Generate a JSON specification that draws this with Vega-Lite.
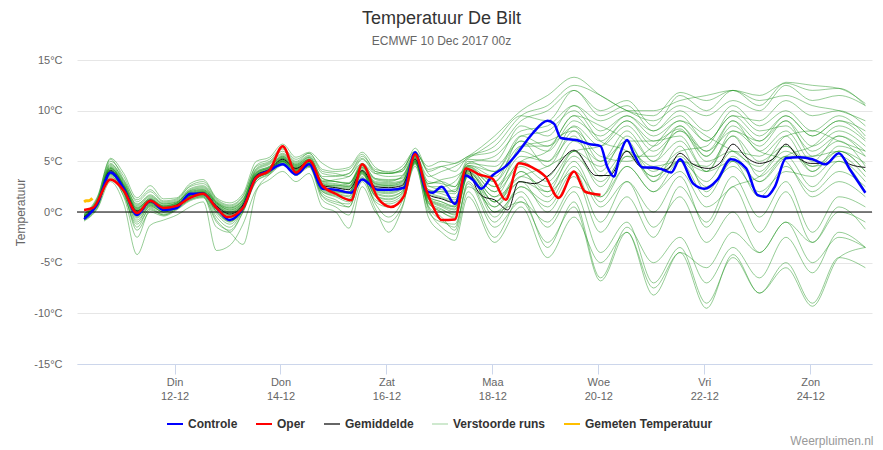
{
"$schema": "https://vega.github.io/schema/vega-lite/v6.json",
"width": 795,
"height": 304,
"autosize": {"type": "none"},
"padding": {"left": 77, "top": 60, "right": 11, "bottom": 86},
"background": "white",
"config": {"font": "Liberation Sans", "view": {"stroke": null}},
"title": {"text": "Temperatuur De Bilt", "subtitle": "ECMWF 10 Dec 2017 00z", "fontSize": 18, "fontWeight": "normal", "color": "#333333", "subtitleFontSize": 12, "subtitleColor": "#666666", "subtitlePadding": 8, "anchor": "middle", "dx": -33, "offset": 7},
"datasets": {
"zero": [{"v": 0}],
"obs": [{"h":-41,"t":1.0},{"h":-40,"t":1.1},{"h":-39,"t":1.1},{"h":-38,"t":1.2},{"h":-37.2,"t":1.35}],
"ctl": [{"h":-41,"t":-0.7},{"h":-35,"t":0.8},{"h":-29,"t":3.9},{"h":-23,"t":2.3},{"h":-17,"t":-0.3},{"h":-11,"t":1.1},{"h":-5,"t":0.2},{"h":1,"t":0.4},{"h":7,"t":1.8},{"h":13,"t":1.8},{"h":19,"t":0.4},{"h":25,"t":-0.8},{"h":31,"t":0.4},{"h":37,"t":3.4},{"h":43,"t":4.1},{"h":49,"t":4.7},{"h":55,"t":3.7},{"h":61,"t":4.7},{"h":67,"t":2.3},{"h":73,"t":2.2},{"h":80,"t":1.9},{"h":85,"t":3.2},{"h":92,"t":2.2},{"h":98,"t":2.2},{"h":104,"t":2.4},{"h":109,"t":5.9},{"h":114,"t":2.1},{"h":117,"t":1.9},{"h":121,"t":2.5},{"h":127,"t":0.8},{"h":132,"t":3.6},{"h":135,"t":3.2},{"h":139,"t":2.3},{"h":144,"t":3.6},{"h":150,"t":4.5},{"h":156,"t":6.0},{"h":162,"t":7.7},{"h":169,"t":9.0},{"h":172,"t":8.7},{"h":175,"t":7.3},{"h":182,"t":7.1},{"h":188,"t":6.7},{"h":193,"t":6.5},{"h":196,"t":4.5},{"h":199,"t":3.5},{"h":202,"t":5.8},{"h":205,"t":7.1},{"h":208,"t":5.8},{"h":212,"t":4.4},{"h":217,"t":4.4},{"h":221,"t":4.2},{"h":225,"t":3.9},{"h":229,"t":5.2},{"h":235,"t":2.8},{"h":240,"t":2.3},{"h":246,"t":3.2},{"h":252,"t":5.2},{"h":259,"t":4.3},{"h":264,"t":1.7},{"h":268,"t":1.5},{"h":272,"t":2.5},{"h":277,"t":5.3},{"h":283,"t":5.4},{"h":289,"t":5.2},{"h":295,"t":4.7},{"h":301,"t":5.8},{"h":306,"t":4.2},{"h":313,"t":1.9}],
"op": [{"h":-41,"t":0.2},{"h":-37,"t":0.4},{"h":-29,"t":3.2},{"h":-23,"t":2.1},{"h":-17,"t":-0.1},{"h":-11,"t":1.1},{"h":-5,"t":0.4},{"h":1,"t":0.6},{"h":7,"t":1.4},{"h":13,"t":1.8},{"h":19,"t":0.4},{"h":24,"t":-0.5},{"h":31,"t":0.4},{"h":37,"t":3.4},{"h":43,"t":4.1},{"h":49,"t":6.5},{"h":55,"t":3.9},{"h":61,"t":5.1},{"h":67,"t":2.6},{"h":73,"t":1.8},{"h":80,"t":1.15},{"h":85,"t":4.7},{"h":92,"t":1.4},{"h":98,"t":0.5},{"h":104,"t":1.6},{"h":109,"t":5.7},{"h":114,"t":2.2},{"h":117,"t":0.6},{"h":121,"t":-0.8},{"h":127,"t":-0.75},{"h":132,"t":4.3},{"h":138,"t":3.7},{"h":144,"t":3.3},{"h":150,"t":1.2},{"h":156,"t":4.8},{"h":162,"t":4.4},{"h":168,"t":3.5},{"h":174,"t":1.4},{"h":181,"t":4.0},{"h":186,"t":2.0},{"h":193,"t":1.7}],
"mean": [{"h":-41,"t":-0.5},{"h":-35,"t":0.9},{"h":-29,"t":4.1},{"h":-23,"t":2.4},{"h":-17,"t":0.1},{"h":-11,"t":1.0},{"h":-5,"t":0.4},{"h":1,"t":0.7},{"h":7,"t":1.7},{"h":13,"t":1.9},{"h":19,"t":0.6},{"h":25,"t":-0.2},{"h":31,"t":0.7},{"h":37,"t":3.6},{"h":43,"t":4.2},{"h":49,"t":5.2},{"h":55,"t":4.3},{"h":61,"t":5.0},{"h":67,"t":2.6},{"h":73,"t":2.4},{"h":79,"t":2.2},{"h":85,"t":4.1},{"h":91,"t":2.5},{"h":97,"t":2.4},{"h":103,"t":2.6},{"h":109,"t":5.2},{"h":115,"t":1.7},{"h":121,"t":1.3},{"h":127,"t":0.9},{"h":133,"t":4.2},{"h":137,"t":2.2},{"h":140,"t":1.5},{"h":145,"t":1.2},{"h":151,"t":0.2},{"h":156,"t":3.0},{"h":163,"t":2.8},{"h":170,"t":3.7},{"h":181,"t":6.1},{"h":191,"t":3.6},{"h":197,"t":3.6},{"h":205,"t":6.0},{"h":211,"t":4.5},{"h":223,"t":4.2},{"h":229,"t":5.8},{"h":235,"t":4.7},{"h":242,"t":4.3},{"h":247,"t":4.8},{"h":253,"t":6.7},{"h":259,"t":5.4},{"h":265,"t":4.8},{"h":271,"t":5.2},{"h":277,"t":6.7},{"h":283,"t":5.3},{"h":288,"t":4.8},{"h":295,"t":4.8},{"h":301,"t":5.8},{"h":306,"t":4.7},{"h":313,"t":4.4}],
"ens": [
{"m":1,"h":-41,"t":-0.4},{"m":1,"h":-35,"t":1.0},{"m":1,"h":-29,"t":4.5},{"m":1,"h":-23,"t":2.8},{"m":1,"h":-17,"t":0.5},{"m":1,"h":-11,"t":1.3},{"m":1,"h":-5,"t":0.6},{"m":1,"h":1,"t":0.9},{"m":1,"h":7,"t":2.0},{"m":1,"h":13,"t":2.2},{"m":1,"h":19,"t":0.9},{"m":1,"h":25,"t":0.2},{"m":1,"h":31,"t":1.0},{"m":1,"h":37,"t":3.9},{"m":1,"h":43,"t":4.5},{"m":1,"h":49,"t":5.5},{"m":1,"h":55,"t":4.6},{"m":1,"h":61,"t":5.3},{"m":1,"h":67,"t":3.0},{"m":1,"h":73,"t":2.8},{"m":1,"h":79,"t":2.6},{"m":1,"h":85,"t":4.5},{"m":1,"h":91,"t":2.9},{"m":1,"h":97,"t":2.8},{"m":1,"h":103,"t":3.0},{"m":1,"h":109,"t":5.5},{"m":1,"h":115,"t":2.2},{"m":1,"h":121,"t":1.8},{"m":1,"h":127,"t":1.4},{"m":1,"h":133,"t":4.6},{"m":1,"h":145,"t":3.5},{"m":1,"h":157,"t":6.5},{"m":1,"h":169,"t":6.5},{"m":1,"h":181,"t":8.4},{"m":1,"h":193,"t":5.0},{"m":1,"h":205,"t":7.0},{"m":1,"h":217,"t":7.0},{"m":1,"h":229,"t":8.2},{"m":1,"h":241,"t":5.0},{"m":1,"h":253,"t":6.0},{"m":1,"h":265,"t":5.5},{"m":1,"h":277,"t":7.5},{"m":1,"h":289,"t":4.0},{"m":1,"h":301,"t":6.5},{"m":1,"h":313,"t":5.5},
{"m":2,"h":-41,"t":-0.8},{"m":2,"h":-35,"t":0.5},{"m":2,"h":-29,"t":3.6},{"m":2,"h":-23,"t":1.5},{"m":2,"h":-17,"t":-2.5},{"m":2,"h":-11,"t":0.2},{"m":2,"h":-5,"t":-0.3},{"m":2,"h":1,"t":0.3},{"m":2,"h":7,"t":1.2},{"m":2,"h":13,"t":1.5},{"m":2,"h":19,"t":-1.5},{"m":2,"h":25,"t":-2.0},{"m":2,"h":31,"t":0.0},{"m":2,"h":37,"t":3.0},{"m":2,"h":43,"t":3.8},{"m":2,"h":49,"t":4.8},{"m":2,"h":55,"t":3.8},{"m":2,"h":61,"t":4.5},{"m":2,"h":67,"t":1.5},{"m":2,"h":73,"t":0.8},{"m":2,"h":79,"t":0.5},{"m":2,"h":85,"t":3.3},{"m":2,"h":91,"t":1.0},{"m":2,"h":97,"t":0.5},{"m":2,"h":103,"t":1.2},{"m":2,"h":109,"t":4.8},{"m":2,"h":115,"t":0.5},{"m":2,"h":121,"t":-0.8},{"m":2,"h":127,"t":-1.5},{"m":2,"h":133,"t":3.0},{"m":2,"h":145,"t":-1.0},{"m":2,"h":157,"t":2.5},{"m":2,"h":169,"t":1.0},{"m":2,"h":181,"t":4.5},{"m":2,"h":193,"t":0.5},{"m":2,"h":205,"t":3.0},{"m":2,"h":217,"t":-1.5},{"m":2,"h":229,"t":1.5},{"m":2,"h":241,"t":-3.0},{"m":2,"h":253,"t":0.0},{"m":2,"h":265,"t":-4.0},{"m":2,"h":277,"t":-1.0},{"m":2,"h":289,"t":-5.0},{"m":2,"h":301,"t":-2.5},{"m":2,"h":313,"t":-3.5},
{"m":3,"h":-41,"t":-0.2},{"m":3,"h":-35,"t":1.3},{"m":3,"h":-29,"t":5.0},{"m":3,"h":-23,"t":3.5},{"m":3,"h":-17,"t":1.0},{"m":3,"h":-11,"t":2.0},{"m":3,"h":-5,"t":1.0},{"m":3,"h":1,"t":1.2},{"m":3,"h":7,"t":2.5},{"m":3,"h":13,"t":2.8},{"m":3,"h":19,"t":1.2},{"m":3,"h":25,"t":0.6},{"m":3,"h":31,"t":1.5},{"m":3,"h":37,"t":4.5},{"m":3,"h":43,"t":5.0},{"m":3,"h":49,"t":6.2},{"m":3,"h":55,"t":5.0},{"m":3,"h":61,"t":5.8},{"m":3,"h":67,"t":4.0},{"m":3,"h":73,"t":3.8},{"m":3,"h":79,"t":3.5},{"m":3,"h":85,"t":5.2},{"m":3,"h":91,"t":3.8},{"m":3,"h":97,"t":3.5},{"m":3,"h":103,"t":3.6},{"m":3,"h":109,"t":5.8},{"m":3,"h":115,"t":3.0},{"m":3,"h":121,"t":2.8},{"m":3,"h":127,"t":2.5},{"m":3,"h":133,"t":5.2},{"m":3,"h":145,"t":5.0},{"m":3,"h":157,"t":8.5},{"m":3,"h":169,"t":7.5},{"m":3,"h":181,"t":10.5},{"m":3,"h":193,"t":8.0},{"m":3,"h":205,"t":9.5},{"m":3,"h":217,"t":7.5},{"m":3,"h":229,"t":9.0},{"m":3,"h":241,"t":7.0},{"m":3,"h":253,"t":9.5},{"m":3,"h":265,"t":7.5},{"m":3,"h":277,"t":9.5},{"m":3,"h":289,"t":7.5},{"m":3,"h":301,"t":9.0},{"m":3,"h":313,"t":8.0},
{"m":4,"h":-41,"t":-0.6},{"m":4,"h":-35,"t":0.7},{"m":4,"h":-29,"t":3.8},{"m":4,"h":-23,"t":2.0},{"m":4,"h":-17,"t":-1.0},{"m":4,"h":-11,"t":0.6},{"m":4,"h":-5,"t":0.0},{"m":4,"h":1,"t":0.5},{"m":4,"h":7,"t":1.5},{"m":4,"h":13,"t":1.7},{"m":4,"h":19,"t":0.0},{"m":4,"h":25,"t":-1.0},{"m":4,"h":31,"t":0.3},{"m":4,"h":37,"t":3.3},{"m":4,"h":43,"t":4.0},{"m":4,"h":49,"t":5.0},{"m":4,"h":55,"t":4.0},{"m":4,"h":61,"t":4.8},{"m":4,"h":67,"t":2.0},{"m":4,"h":73,"t":1.6},{"m":4,"h":79,"t":1.2},{"m":4,"h":85,"t":3.8},{"m":4,"h":91,"t":1.8},{"m":4,"h":97,"t":1.5},{"m":4,"h":103,"t":2.0},{"m":4,"h":109,"t":5.0},{"m":4,"h":115,"t":1.0},{"m":4,"h":121,"t":0.3},{"m":4,"h":127,"t":-0.3},{"m":4,"h":133,"t":3.6},{"m":4,"h":145,"t":0.0},{"m":4,"h":157,"t":2.0},{"m":4,"h":169,"t":-1.5},{"m":4,"h":181,"t":2.0},{"m":4,"h":193,"t":-4.0},{"m":4,"h":205,"t":-1.0},{"m":4,"h":217,"t":-7.0},{"m":4,"h":229,"t":-3.5},{"m":4,"h":241,"t":-9.0},{"m":4,"h":253,"t":-4.5},{"m":4,"h":265,"t":-8.0},{"m":4,"h":277,"t":-5.0},{"m":4,"h":289,"t":-9.0},{"m":4,"h":301,"t":-4.5},{"m":4,"h":313,"t":-5.5},
{"m":5,"h":-41,"t":-0.3},{"m":5,"h":-35,"t":1.2},{"m":5,"h":-29,"t":4.8},{"m":5,"h":-23,"t":3.0},{"m":5,"h":-17,"t":0.8},{"m":5,"h":-11,"t":1.6},{"m":5,"h":-5,"t":0.8},{"m":5,"h":1,"t":1.0},{"m":5,"h":7,"t":2.2},{"m":5,"h":13,"t":2.5},{"m":5,"h":19,"t":1.0},{"m":5,"h":25,"t":0.4},{"m":5,"h":31,"t":1.2},{"m":5,"h":37,"t":4.2},{"m":5,"h":43,"t":4.8},{"m":5,"h":49,"t":5.8},{"m":5,"h":55,"t":4.8},{"m":5,"h":61,"t":5.5},{"m":5,"h":67,"t":3.5},{"m":5,"h":73,"t":3.5},{"m":5,"h":79,"t":3.8},{"m":5,"h":85,"t":5.5},{"m":5,"h":91,"t":4.2},{"m":5,"h":97,"t":4.0},{"m":5,"h":103,"t":4.5},{"m":5,"h":109,"t":6.0},{"m":5,"h":115,"t":4.0},{"m":5,"h":121,"t":4.5},{"m":5,"h":127,"t":4.8},{"m":5,"h":133,"t":5.5},{"m":5,"h":145,"t":7.5},{"m":5,"h":157,"t":10.0},{"m":5,"h":169,"t":11.5},{"m":5,"h":181,"t":13.3},{"m":5,"h":193,"t":11.5},{"m":5,"h":205,"t":10.0},{"m":5,"h":217,"t":9.0},{"m":5,"h":229,"t":10.5},{"m":5,"h":241,"t":9.5},{"m":5,"h":253,"t":11.0},{"m":5,"h":265,"t":10.0},{"m":5,"h":277,"t":12.5},{"m":5,"h":289,"t":11.0},{"m":5,"h":301,"t":11.5},{"m":5,"h":313,"t":10.5},
{"m":6,"h":-41,"t":-0.7},{"m":6,"h":-35,"t":0.6},{"m":6,"h":-29,"t":3.5},{"m":6,"h":-23,"t":1.8},{"m":6,"h":-17,"t":-1.5},{"m":6,"h":-11,"t":0.4},{"m":6,"h":-5,"t":-0.2},{"m":6,"h":1,"t":0.4},{"m":6,"h":7,"t":1.3},{"m":6,"h":13,"t":1.6},{"m":6,"h":19,"t":-0.5},{"m":6,"h":25,"t":-1.5},{"m":6,"h":31,"t":0.2},{"m":6,"h":37,"t":3.2},{"m":6,"h":43,"t":3.9},{"m":6,"h":49,"t":4.9},{"m":6,"h":55,"t":3.9},{"m":6,"h":61,"t":4.6},{"m":6,"h":67,"t":1.8},{"m":6,"h":73,"t":1.2},{"m":6,"h":79,"t":0.5},{"m":6,"h":85,"t":3.5},{"m":6,"h":91,"t":0.8},{"m":6,"h":97,"t":-0.5},{"m":6,"h":103,"t":1.0},{"m":6,"h":109,"t":4.9},{"m":6,"h":115,"t":0.3},{"m":6,"h":121,"t":-1.5},{"m":6,"h":127,"t":-2.2},{"m":6,"h":133,"t":2.0},{"m":6,"h":145,"t":-2.5},{"m":6,"h":157,"t":1.5},{"m":6,"h":169,"t":-3.5},{"m":6,"h":181,"t":1.0},{"m":6,"h":193,"t":-6.5},{"m":6,"h":205,"t":-1.5},{"m":6,"h":217,"t":-5.0},{"m":6,"h":229,"t":-2.5},{"m":6,"h":241,"t":-7.0},{"m":6,"h":253,"t":-3.5},{"m":6,"h":265,"t":-6.5},{"m":6,"h":277,"t":-2.5},{"m":6,"h":289,"t":-6.0},{"m":6,"h":301,"t":-2.0},{"m":6,"h":313,"t":-3.5},
{"m":7,"h":-41,"t":-0.5},{"m":7,"h":-35,"t":0.8},{"m":7,"h":-29,"t":4.0},{"m":7,"h":-23,"t":2.2},{"m":7,"h":-17,"t":-0.3},{"m":7,"h":-11,"t":0.8},{"m":7,"h":-5,"t":0.2},{"m":7,"h":1,"t":0.6},{"m":7,"h":7,"t":1.6},{"m":7,"h":13,"t":1.8},{"m":7,"h":19,"t":0.3},{"m":7,"h":25,"t":-0.5},{"m":7,"h":31,"t":0.5},{"m":7,"h":37,"t":3.5},{"m":7,"h":43,"t":4.1},{"m":7,"h":49,"t":5.0},{"m":7,"h":55,"t":4.2},{"m":7,"h":61,"t":4.9},{"m":7,"h":67,"t":2.4},{"m":7,"h":73,"t":2.0},{"m":7,"h":79,"t":1.8},{"m":7,"h":85,"t":4.0},{"m":7,"h":91,"t":2.2},{"m":7,"h":97,"t":2.0},{"m":7,"h":103,"t":2.3},{"m":7,"h":109,"t":5.1},{"m":7,"h":115,"t":1.4},{"m":7,"h":121,"t":0.8},{"m":7,"h":127,"t":0.5},{"m":7,"h":133,"t":4.0},{"m":7,"h":145,"t":1.0},{"m":7,"h":157,"t":3.5},{"m":7,"h":169,"t":2.5},{"m":7,"h":181,"t":5.5},{"m":7,"h":193,"t":3.0},{"m":7,"h":205,"t":5.5},{"m":7,"h":217,"t":3.5},{"m":7,"h":229,"t":5.0},{"m":7,"h":241,"t":3.0},{"m":7,"h":253,"t":6.0},{"m":7,"h":265,"t":4.0},{"m":7,"h":277,"t":6.5},{"m":7,"h":289,"t":4.5},{"m":7,"h":301,"t":6.0},{"m":7,"h":313,"t":4.0},
{"m":8,"h":-41,"t":-0.4},{"m":8,"h":-35,"t":1.1},{"m":8,"h":-29,"t":4.4},{"m":8,"h":-23,"t":2.6},{"m":8,"h":-17,"t":0.4},{"m":8,"h":-11,"t":1.2},{"m":8,"h":-5,"t":0.6},{"m":8,"h":1,"t":0.8},{"m":8,"h":7,"t":1.9},{"m":8,"h":13,"t":2.1},{"m":8,"h":19,"t":0.8},{"m":8,"h":25,"t":0.1},{"m":8,"h":31,"t":0.9},{"m":8,"h":37,"t":3.8},{"m":8,"h":43,"t":4.4},{"m":8,"h":49,"t":5.4},{"m":8,"h":55,"t":4.5},{"m":8,"h":61,"t":5.2},{"m":8,"h":67,"t":3.0},{"m":8,"h":73,"t":3.2},{"m":8,"h":79,"t":3.5},{"m":8,"h":85,"t":4.8},{"m":8,"h":91,"t":3.8},{"m":8,"h":97,"t":3.8},{"m":8,"h":103,"t":4.0},{"m":8,"h":109,"t":5.6},{"m":8,"h":115,"t":3.5},{"m":8,"h":121,"t":4.0},{"m":8,"h":127,"t":4.5},{"m":8,"h":133,"t":5.3},{"m":8,"h":145,"t":7.0},{"m":8,"h":157,"t":9.5},{"m":8,"h":169,"t":9.0},{"m":8,"h":181,"t":12.0},{"m":8,"h":193,"t":10.0},{"m":8,"h":205,"t":11.0},{"m":8,"h":217,"t":8.5},{"m":8,"h":229,"t":11.5},{"m":8,"h":241,"t":10.0},{"m":8,"h":253,"t":12.0},{"m":8,"h":265,"t":10.5},{"m":8,"h":277,"t":12.8},{"m":8,"h":289,"t":12.5},{"m":8,"h":301,"t":12.2},{"m":8,"h":313,"t":10.7},
{"m":9,"h":-41,"t":-0.9},{"m":9,"h":-35,"t":0.3},{"m":9,"h":-29,"t":3.0},{"m":9,"h":-23,"t":0.8},{"m":9,"h":-17,"t":-4.2},{"m":9,"h":-11,"t":-1.3},{"m":9,"h":-5,"t":-0.8},{"m":9,"h":1,"t":-0.3},{"m":9,"h":7,"t":0.5},{"m":9,"h":13,"t":1.0},{"m":9,"h":19,"t":-3.8},{"m":9,"h":25,"t":-3.3},{"m":9,"h":31,"t":-1.2},{"m":9,"h":37,"t":2.2},{"m":9,"h":43,"t":3.2},{"m":9,"h":49,"t":4.0},{"m":9,"h":55,"t":3.0},{"m":9,"h":61,"t":3.8},{"m":9,"h":67,"t":0.5},{"m":9,"h":73,"t":0.0},{"m":9,"h":79,"t":-1.6},{"m":9,"h":85,"t":2.5},{"m":9,"h":91,"t":0.0},{"m":9,"h":97,"t":-1.0},{"m":9,"h":103,"t":0.5},{"m":9,"h":109,"t":4.5},{"m":9,"h":115,"t":0.0},{"m":9,"h":121,"t":-1.0},{"m":9,"h":127,"t":-1.2},{"m":9,"h":133,"t":2.5},{"m":9,"h":145,"t":0.5},{"m":9,"h":157,"t":4.0},{"m":9,"h":169,"t":2.0},{"m":9,"h":181,"t":6.0},{"m":9,"h":193,"t":2.5},{"m":9,"h":205,"t":6.0},{"m":9,"h":217,"t":3.0},{"m":9,"h":229,"t":6.5},{"m":9,"h":241,"t":2.0},{"m":9,"h":253,"t":5.5},{"m":9,"h":265,"t":3.0},{"m":9,"h":277,"t":5.5},{"m":9,"h":289,"t":2.5},{"m":9,"h":301,"t":5.0},{"m":9,"h":313,"t":3.0},
{"m":10,"h":-41,"t":-0.6},{"m":10,"h":-35,"t":0.9},{"m":10,"h":-29,"t":4.2},{"m":10,"h":-23,"t":2.5},{"m":10,"h":-17,"t":0.2},{"m":10,"h":-11,"t":1.1},{"m":10,"h":-5,"t":0.5},{"m":10,"h":1,"t":0.7},{"m":10,"h":7,"t":1.8},{"m":10,"h":13,"t":2.0},{"m":10,"h":19,"t":0.7},{"m":10,"h":25,"t":-0.1},{"m":10,"h":31,"t":0.8},{"m":10,"h":37,"t":3.7},{"m":10,"h":43,"t":4.3},{"m":10,"h":49,"t":5.3},{"m":10,"h":55,"t":4.4},{"m":10,"h":61,"t":5.1},{"m":10,"h":67,"t":2.8},{"m":10,"h":73,"t":2.5},{"m":10,"h":79,"t":2.4},{"m":10,"h":85,"t":4.3},{"m":10,"h":91,"t":2.8},{"m":10,"h":97,"t":2.6},{"m":10,"h":103,"t":2.8},{"m":10,"h":109,"t":5.3},{"m":10,"h":115,"t":2.0},{"m":10,"h":121,"t":1.5},{"m":10,"h":127,"t":1.2},{"m":10,"h":133,"t":4.4},{"m":10,"h":145,"t":2.5},{"m":10,"h":157,"t":5.5},{"m":10,"h":169,"t":5.0},{"m":10,"h":181,"t":7.5},{"m":10,"h":193,"t":3.5},{"m":10,"h":205,"t":6.0},{"m":10,"h":217,"t":4.5},{"m":10,"h":229,"t":5.0},{"m":10,"h":241,"t":4.0},{"m":10,"h":253,"t":8.0},{"m":10,"h":265,"t":7.0},{"m":10,"h":277,"t":9.0},{"m":10,"h":289,"t":5.5},{"m":10,"h":301,"t":6.0},{"m":10,"h":313,"t":4.0},
{"m":11,"h":-41,"t":-0.5},{"m":11,"h":-35,"t":0.8},{"m":11,"h":-29,"t":3.9},{"m":11,"h":-23,"t":2.1},{"m":11,"h":-17,"t":-0.5},{"m":11,"h":-11,"t":0.7},{"m":11,"h":-5,"t":0.1},{"m":11,"h":1,"t":0.5},{"m":11,"h":7,"t":1.5},{"m":11,"h":13,"t":1.8},{"m":11,"h":19,"t":0.2},{"m":11,"h":25,"t":-0.8},{"m":11,"h":31,"t":0.4},{"m":11,"h":37,"t":3.4},{"m":11,"h":43,"t":4.0},{"m":11,"h":49,"t":5.0},{"m":11,"h":55,"t":4.1},{"m":11,"h":61,"t":4.8},{"m":11,"h":67,"t":2.2},{"m":11,"h":73,"t":1.8},{"m":11,"h":79,"t":1.5},{"m":11,"h":85,"t":3.9},{"m":11,"h":91,"t":1.6},{"m":11,"h":97,"t":1.2},{"m":11,"h":103,"t":1.8},{"m":11,"h":109,"t":5.0},{"m":11,"h":115,"t":1.0},{"m":11,"h":121,"t":0.0},{"m":11,"h":127,"t":-0.5},{"m":11,"h":133,"t":3.8},{"m":11,"h":145,"t":-0.5},{"m":11,"h":157,"t":2.5},{"m":11,"h":169,"t":0.5},{"m":11,"h":181,"t":4.0},{"m":11,"h":193,"t":-1.0},{"m":11,"h":205,"t":3.0},{"m":11,"h":217,"t":0.0},{"m":11,"h":229,"t":3.5},{"m":11,"h":241,"t":-1.5},{"m":11,"h":253,"t":2.5},{"m":11,"h":265,"t":-2.0},{"m":11,"h":277,"t":2.0},{"m":11,"h":289,"t":-3.0},{"m":11,"h":301,"t":0.5},{"m":11,"h":313,"t":-1.7},
{"m":12,"h":-41,"t":-0.3},{"m":12,"h":-35,"t":1.4},{"m":12,"h":-29,"t":5.3},{"m":12,"h":-23,"t":3.8},{"m":12,"h":-17,"t":1.4},{"m":12,"h":-11,"t":2.6},{"m":12,"h":-5,"t":1.3},{"m":12,"h":1,"t":1.4},{"m":12,"h":7,"t":2.8},{"m":12,"h":13,"t":3.2},{"m":12,"h":19,"t":1.4},{"m":12,"h":25,"t":0.9},{"m":12,"h":31,"t":1.8},{"m":12,"h":37,"t":5.0},{"m":12,"h":43,"t":5.4},{"m":12,"h":49,"t":6.7},{"m":12,"h":55,"t":5.4},{"m":12,"h":61,"t":5.9},{"m":12,"h":67,"t":4.8},{"m":12,"h":73,"t":4.2},{"m":12,"h":79,"t":4.4},{"m":12,"h":85,"t":5.9},{"m":12,"h":91,"t":4.4},{"m":12,"h":97,"t":3.9},{"m":12,"h":103,"t":4.0},{"m":12,"h":109,"t":6.3},{"m":12,"h":115,"t":3.8},{"m":12,"h":121,"t":3.0},{"m":12,"h":127,"t":2.0},{"m":12,"h":133,"t":5.0},{"m":12,"h":145,"t":4.0},{"m":12,"h":157,"t":7.5},{"m":12,"h":169,"t":6.5},{"m":12,"h":181,"t":9.5},{"m":12,"h":193,"t":7.0},{"m":12,"h":205,"t":9.0},{"m":12,"h":217,"t":6.5},{"m":12,"h":229,"t":8.5},{"m":12,"h":241,"t":6.0},{"m":12,"h":253,"t":9.0},{"m":12,"h":265,"t":7.0},{"m":12,"h":277,"t":9.5},{"m":12,"h":289,"t":7.5},{"m":12,"h":301,"t":9.0},{"m":12,"h":313,"t":7.2},
{"m":13,"h":-41,"t":-0.4},{"m":13,"h":-35,"t":1.0},{"m":13,"h":-29,"t":4.3},{"m":13,"h":-23,"t":2.7},{"m":13,"h":-17,"t":0.3},{"m":13,"h":-11,"t":1.4},{"m":13,"h":-5,"t":0.7},{"m":13,"h":1,"t":0.9},{"m":13,"h":7,"t":2.1},{"m":13,"h":13,"t":2.3},{"m":13,"h":19,"t":0.9},{"m":13,"h":25,"t":0.3},{"m":13,"h":31,"t":1.1},{"m":13,"h":37,"t":4.0},{"m":13,"h":43,"t":4.5},{"m":13,"h":49,"t":5.6},{"m":13,"h":55,"t":4.7},{"m":13,"h":61,"t":5.4},{"m":13,"h":67,"t":3.3},{"m":13,"h":73,"t":3.0},{"m":13,"h":79,"t":2.8},{"m":13,"h":85,"t":4.6},{"m":13,"h":91,"t":3.0},{"m":13,"h":97,"t":2.9},{"m":13,"h":103,"t":3.1},{"m":13,"h":109,"t":5.5},{"m":13,"h":115,"t":2.5},{"m":13,"h":121,"t":2.5},{"m":13,"h":127,"t":3.0},{"m":13,"h":133,"t":4.8},{"m":13,"h":145,"t":5.5},{"m":13,"h":157,"t":8.0},{"m":13,"h":169,"t":8.5},{"m":13,"h":181,"t":10.5},{"m":13,"h":193,"t":9.0},{"m":13,"h":205,"t":10.0},{"m":13,"h":217,"t":10.0},{"m":13,"h":229,"t":11.0},{"m":13,"h":241,"t":11.5},{"m":13,"h":253,"t":12.0},{"m":13,"h":265,"t":11.0},{"m":13,"h":277,"t":11.5},{"m":13,"h":289,"t":10.5},{"m":13,"h":301,"t":10.0},{"m":13,"h":313,"t":9.0},
{"m":14,"h":-41,"t":-0.7},{"m":14,"h":-35,"t":0.6},{"m":14,"h":-29,"t":3.7},{"m":14,"h":-23,"t":1.9},{"m":14,"h":-17,"t":-1.8},{"m":14,"h":-11,"t":0.0},{"m":14,"h":-5,"t":-0.4},{"m":14,"h":1,"t":0.2},{"m":14,"h":7,"t":1.1},{"m":14,"h":13,"t":1.4},{"m":14,"h":19,"t":-1.0},{"m":14,"h":25,"t":-2.0},{"m":14,"h":31,"t":-3.2},{"m":14,"h":37,"t":2.0},{"m":14,"h":43,"t":3.7},{"m":14,"h":49,"t":4.7},{"m":14,"h":55,"t":3.6},{"m":14,"h":61,"t":4.4},{"m":14,"h":67,"t":1.2},{"m":14,"h":73,"t":0.5},{"m":14,"h":79,"t":-0.3},{"m":14,"h":85,"t":3.0},{"m":14,"h":91,"t":0.3},{"m":14,"h":97,"t":-2.0},{"m":14,"h":103,"t":0.3},{"m":14,"h":109,"t":4.7},{"m":14,"h":115,"t":-0.5},{"m":14,"h":121,"t":-2.0},{"m":14,"h":127,"t":-2.8},{"m":14,"h":133,"t":1.5},{"m":14,"h":145,"t":-3.0},{"m":14,"h":157,"t":0.5},{"m":14,"h":169,"t":-4.5},{"m":14,"h":181,"t":-0.5},{"m":14,"h":193,"t":-5.0},{"m":14,"h":205,"t":-2.0},{"m":14,"h":217,"t":-7.5},{"m":14,"h":229,"t":-4.0},{"m":14,"h":241,"t":-5.5},{"m":14,"h":253,"t":-2.0},{"m":14,"h":265,"t":-4.0},{"m":14,"h":277,"t":-1.0},{"m":14,"h":289,"t":-3.0},{"m":14,"h":301,"t":0.0},{"m":14,"h":313,"t":-1.0},
{"m":15,"h":-41,"t":-0.5},{"m":15,"h":-35,"t":0.9},{"m":15,"h":-29,"t":4.1},{"m":15,"h":-23,"t":2.4},{"m":15,"h":-17,"t":0.0},{"m":15,"h":-11,"t":1.0},{"m":15,"h":-5,"t":0.4},{"m":15,"h":1,"t":0.7},{"m":15,"h":7,"t":1.7},{"m":15,"h":13,"t":1.9},{"m":15,"h":19,"t":0.6},{"m":15,"h":25,"t":-0.2},{"m":15,"h":31,"t":0.7},{"m":15,"h":37,"t":3.6},{"m":15,"h":43,"t":4.2},{"m":15,"h":49,"t":5.2},{"m":15,"h":55,"t":4.3},{"m":15,"h":61,"t":5.0},{"m":15,"h":67,"t":2.6},{"m":15,"h":73,"t":2.6},{"m":15,"h":79,"t":2.8},{"m":15,"h":85,"t":4.4},{"m":15,"h":91,"t":3.2},{"m":15,"h":97,"t":3.0},{"m":15,"h":103,"t":3.5},{"m":15,"h":109,"t":5.4},{"m":15,"h":115,"t":2.8},{"m":15,"h":121,"t":3.0},{"m":15,"h":127,"t":2.5},{"m":15,"h":133,"t":4.5},{"m":15,"h":145,"t":3.0},{"m":15,"h":157,"t":6.0},{"m":15,"h":169,"t":5.0},{"m":15,"h":181,"t":8.5},{"m":15,"h":193,"t":6.5},{"m":15,"h":205,"t":8.5},{"m":15,"h":217,"t":6.0},{"m":15,"h":229,"t":8.0},{"m":15,"h":241,"t":5.5},{"m":15,"h":253,"t":8.5},{"m":15,"h":265,"t":6.5},{"m":15,"h":277,"t":9.0},{"m":15,"h":289,"t":6.5},{"m":15,"h":301,"t":8.0},{"m":15,"h":313,"t":6.5},
{"m":16,"h":-41,"t":-0.6},{"m":16,"h":-35,"t":0.8},{"m":16,"h":-29,"t":4.0},{"m":16,"h":-23,"t":2.3},{"m":16,"h":-17,"t":0.1},{"m":16,"h":-11,"t":0.9},{"m":16,"h":-5,"t":0.3},{"m":16,"h":1,"t":0.6},{"m":16,"h":7,"t":1.6},{"m":16,"h":13,"t":1.9},{"m":16,"h":19,"t":0.5},{"m":16,"h":25,"t":-0.3},{"m":16,"h":31,"t":0.6},{"m":16,"h":37,"t":3.5},{"m":16,"h":43,"t":4.1},{"m":16,"h":49,"t":5.1},{"m":16,"h":55,"t":4.3},{"m":16,"h":61,"t":5.0},{"m":16,"h":67,"t":2.5},{"m":16,"h":73,"t":2.2},{"m":16,"h":79,"t":2.0},{"m":16,"h":85,"t":4.0},{"m":16,"h":91,"t":2.3},{"m":16,"h":97,"t":2.2},{"m":16,"h":103,"t":2.5},{"m":16,"h":109,"t":5.2},{"m":16,"h":115,"t":1.5},{"m":16,"h":121,"t":1.0},{"m":16,"h":127,"t":0.6},{"m":16,"h":133,"t":4.2},{"m":16,"h":145,"t":2.0},{"m":16,"h":157,"t":4.5},{"m":16,"h":169,"t":3.0},{"m":16,"h":181,"t":6.0},{"m":16,"h":193,"t":4.5},{"m":16,"h":205,"t":7.0},{"m":16,"h":217,"t":3.0},{"m":16,"h":229,"t":5.0},{"m":16,"h":241,"t":4.5},{"m":16,"h":253,"t":7.5},{"m":16,"h":265,"t":3.5},{"m":16,"h":277,"t":5.5},{"m":16,"h":289,"t":5.5},{"m":16,"h":301,"t":7.0},{"m":16,"h":313,"t":4.5},
{"m":17,"h":-41,"t":-0.2},{"m":17,"h":-35,"t":1.5},{"m":17,"h":-29,"t":5.2},{"m":17,"h":-23,"t":3.2},{"m":17,"h":-17,"t":1.2},{"m":17,"h":-11,"t":2.2},{"m":17,"h":-5,"t":1.1},{"m":17,"h":1,"t":1.3},{"m":17,"h":7,"t":2.6},{"m":17,"h":13,"t":3.0},{"m":17,"h":19,"t":1.3},{"m":17,"h":25,"t":0.7},{"m":17,"h":31,"t":1.6},{"m":17,"h":37,"t":4.6},{"m":17,"h":43,"t":5.2},{"m":17,"h":49,"t":6.3},{"m":17,"h":55,"t":5.2},{"m":17,"h":61,"t":5.8},{"m":17,"h":67,"t":4.2},{"m":17,"h":73,"t":4.0},{"m":17,"h":79,"t":4.2},{"m":17,"h":85,"t":5.7},{"m":17,"h":91,"t":4.0},{"m":17,"h":97,"t":3.8},{"m":17,"h":103,"t":4.2},{"m":17,"h":109,"t":5.9},{"m":17,"h":115,"t":4.2},{"m":17,"h":121,"t":4.5},{"m":17,"h":127,"t":4.0},{"m":17,"h":133,"t":5.4},{"m":17,"h":145,"t":6.0},{"m":17,"h":157,"t":9.0},{"m":17,"h":169,"t":10.0},{"m":17,"h":181,"t":12.0},{"m":17,"h":193,"t":9.5},{"m":17,"h":205,"t":10.5},{"m":17,"h":217,"t":8.0},{"m":17,"h":229,"t":10.0},{"m":17,"h":241,"t":8.0},{"m":17,"h":253,"t":10.5},{"m":17,"h":265,"t":8.5},{"m":17,"h":277,"t":10.0},{"m":17,"h":289,"t":8.0},{"m":17,"h":301,"t":9.5},{"m":17,"h":313,"t":7.5},
{"m":18,"h":-41,"t":-0.6},{"m":18,"h":-35,"t":0.7},{"m":18,"h":-29,"t":3.7},{"m":18,"h":-23,"t":2.0},{"m":18,"h":-17,"t":-0.8},{"m":18,"h":-11,"t":0.5},{"m":18,"h":-5,"t":0.0},{"m":18,"h":1,"t":0.4},{"m":18,"h":7,"t":1.4},{"m":18,"h":13,"t":1.6},{"m":18,"h":19,"t":-0.2},{"m":18,"h":25,"t":-1.2},{"m":18,"h":31,"t":0.2},{"m":18,"h":37,"t":3.2},{"m":18,"h":43,"t":3.9},{"m":18,"h":49,"t":4.8},{"m":18,"h":55,"t":3.9},{"m":18,"h":61,"t":4.7},{"m":18,"h":67,"t":2.0},{"m":18,"h":73,"t":1.5},{"m":18,"h":79,"t":1.0},{"m":18,"h":85,"t":3.7},{"m":18,"h":91,"t":1.5},{"m":18,"h":97,"t":1.0},{"m":18,"h":103,"t":1.6},{"m":18,"h":109,"t":4.9},{"m":18,"h":115,"t":0.8},{"m":18,"h":121,"t":0.2},{"m":18,"h":127,"t":-0.2},{"m":18,"h":133,"t":3.5},{"m":18,"h":145,"t":1.0},{"m":18,"h":157,"t":4.0},{"m":18,"h":169,"t":1.5},{"m":18,"h":181,"t":5.0},{"m":18,"h":193,"t":1.0},{"m":18,"h":205,"t":4.5},{"m":18,"h":217,"t":2.0},{"m":18,"h":229,"t":5.0},{"m":18,"h":241,"t":1.5},{"m":18,"h":253,"t":5.0},{"m":18,"h":265,"t":1.5},{"m":18,"h":277,"t":4.5},{"m":18,"h":289,"t":2.0},{"m":18,"h":301,"t":4.0},{"m":18,"h":313,"t":2.5},
{"m":19,"h":-41,"t":-0.5},{"m":19,"h":-35,"t":0.9},{"m":19,"h":-29,"t":4.3},{"m":19,"h":-23,"t":2.6},{"m":19,"h":-17,"t":0.3},{"m":19,"h":-11,"t":1.2},{"m":19,"h":-5,"t":0.5},{"m":19,"h":1,"t":0.8},{"m":19,"h":7,"t":1.9},{"m":19,"h":13,"t":2.1},{"m":19,"h":19,"t":0.8},{"m":19,"h":25,"t":0.0},{"m":19,"h":31,"t":0.9},{"m":19,"h":37,"t":3.8},{"m":19,"h":43,"t":4.4},{"m":19,"h":49,"t":5.4},{"m":19,"h":55,"t":4.5},{"m":19,"h":61,"t":5.2},{"m":19,"h":67,"t":2.9},{"m":19,"h":73,"t":2.7},{"m":19,"h":79,"t":2.5},{"m":19,"h":85,"t":4.6},{"m":19,"h":91,"t":2.7},{"m":19,"h":97,"t":2.6},{"m":19,"h":103,"t":2.9},{"m":19,"h":109,"t":5.4},{"m":19,"h":115,"t":2.0},{"m":19,"h":121,"t":2.0},{"m":19,"h":127,"t":2.2},{"m":19,"h":133,"t":4.6},{"m":19,"h":145,"t":4.0},{"m":19,"h":157,"t":7.0},{"m":19,"h":169,"t":4.5},{"m":19,"h":181,"t":8.0},{"m":19,"h":193,"t":4.0},{"m":19,"h":205,"t":7.5},{"m":19,"h":217,"t":5.0},{"m":19,"h":229,"t":8.5},{"m":19,"h":241,"t":5.5},{"m":19,"h":253,"t":9.0},{"m":19,"h":265,"t":6.0},{"m":19,"h":277,"t":8.0},{"m":19,"h":289,"t":5.0},{"m":19,"h":301,"t":7.5},{"m":19,"h":313,"t":6.0},
{"m":20,"h":-41,"t":-0.8},{"m":20,"h":-35,"t":0.4},{"m":20,"h":-29,"t":3.4},{"m":20,"h":-23,"t":1.6},{"m":20,"h":-17,"t":-1.2},{"m":20,"h":-11,"t":0.3},{"m":20,"h":-5,"t":-0.3},{"m":20,"h":1,"t":0.3},{"m":20,"h":7,"t":1.2},{"m":20,"h":13,"t":1.5},{"m":20,"h":19,"t":-0.8},{"m":20,"h":25,"t":-1.8},{"m":20,"h":31,"t":0.0},{"m":20,"h":37,"t":3.0},{"m":20,"h":43,"t":3.7},{"m":20,"h":49,"t":4.6},{"m":20,"h":55,"t":3.8},{"m":20,"h":61,"t":4.5},{"m":20,"h":67,"t":1.6},{"m":20,"h":73,"t":1.0},{"m":20,"h":79,"t":0.8},{"m":20,"h":85,"t":3.4},{"m":20,"h":91,"t":1.2},{"m":20,"h":97,"t":0.8},{"m":20,"h":103,"t":1.4},{"m":20,"h":109,"t":4.8},{"m":20,"h":115,"t":0.6},{"m":20,"h":121,"t":-0.5},{"m":20,"h":127,"t":-1.8},{"m":20,"h":133,"t":2.8},{"m":20,"h":145,"t":-1.5},{"m":20,"h":157,"t":1.0},{"m":20,"h":169,"t":-3.0},{"m":20,"h":181,"t":0.5},{"m":20,"h":193,"t":-6.8},{"m":20,"h":205,"t":-2.0},{"m":20,"h":217,"t":-8.2},{"m":20,"h":229,"t":-4.0},{"m":20,"h":241,"t":-9.5},{"m":20,"h":253,"t":-4.2},{"m":20,"h":265,"t":-8.0},{"m":20,"h":277,"t":-5.5},{"m":20,"h":289,"t":-9.3},{"m":20,"h":301,"t":-4.5},{"m":20,"h":313,"t":-3.5},
{"m":21,"h":-41,"t":-0.4},{"m":21,"h":-35,"t":1.1},{"m":21,"h":-29,"t":4.6},{"m":21,"h":-23,"t":2.9},{"m":21,"h":-17,"t":0.6},{"m":21,"h":-11,"t":1.5},{"m":21,"h":-5,"t":0.8},{"m":21,"h":1,"t":1.0},{"m":21,"h":7,"t":2.1},{"m":21,"h":13,"t":2.4},{"m":21,"h":19,"t":1.0},{"m":21,"h":25,"t":0.4},{"m":21,"h":31,"t":1.2},{"m":21,"h":37,"t":4.1},{"m":21,"h":43,"t":4.7},{"m":21,"h":49,"t":5.7},{"m":21,"h":55,"t":4.7},{"m":21,"h":61,"t":5.4},{"m":21,"h":67,"t":3.3},{"m":21,"h":73,"t":3.0},{"m":21,"h":79,"t":2.9},{"m":21,"h":85,"t":4.8},{"m":21,"h":91,"t":3.3},{"m":21,"h":97,"t":3.2},{"m":21,"h":103,"t":3.3},{"m":21,"h":109,"t":5.6},{"m":21,"h":115,"t":2.6},{"m":21,"h":121,"t":2.2},{"m":21,"h":127,"t":2.0},{"m":21,"h":133,"t":4.8},{"m":21,"h":145,"t":4.5},{"m":21,"h":157,"t":7.0},{"m":21,"h":169,"t":6.0},{"m":21,"h":181,"t":9.0},{"m":21,"h":193,"t":7.5},{"m":21,"h":205,"t":9.5},{"m":21,"h":217,"t":8.0},{"m":21,"h":229,"t":9.5},{"m":21,"h":241,"t":7.0},{"m":21,"h":253,"t":9.5},{"m":21,"h":265,"t":9.0},{"m":21,"h":277,"t":11.0},{"m":21,"h":289,"t":9.5},{"m":21,"h":301,"t":10.0},{"m":21,"h":313,"t":8.5},
{"m":22,"h":-41,"t":-0.5},{"m":22,"h":-35,"t":0.9},{"m":22,"h":-29,"t":4.0},{"m":22,"h":-23,"t":2.3},{"m":22,"h":-17,"t":-0.1},{"m":22,"h":-11,"t":0.9},{"m":22,"h":-5,"t":0.3},{"m":22,"h":1,"t":0.6},{"m":22,"h":7,"t":1.6},{"m":22,"h":13,"t":1.8},{"m":22,"h":19,"t":0.4},{"m":22,"h":25,"t":-0.4},{"m":22,"h":31,"t":0.6},{"m":22,"h":37,"t":3.5},{"m":22,"h":43,"t":4.1},{"m":22,"h":49,"t":5.1},{"m":22,"h":55,"t":4.2},{"m":22,"h":61,"t":4.9},{"m":22,"h":67,"t":2.4},{"m":22,"h":73,"t":2.2},{"m":22,"h":79,"t":2.0},{"m":22,"h":85,"t":4.1},{"m":22,"h":91,"t":2.4},{"m":22,"h":97,"t":2.2},{"m":22,"h":103,"t":2.4},{"m":22,"h":109,"t":5.1},{"m":22,"h":115,"t":1.5},{"m":22,"h":121,"t":1.0},{"m":22,"h":127,"t":0.5},{"m":22,"h":133,"t":4.1},{"m":22,"h":145,"t":1.5},{"m":22,"h":157,"t":5.0},{"m":22,"h":169,"t":3.5},{"m":22,"h":181,"t":7.0},{"m":22,"h":193,"t":5.0},{"m":22,"h":205,"t":8.0},{"m":22,"h":217,"t":5.0},{"m":22,"h":229,"t":7.0},{"m":22,"h":241,"t":4.0},{"m":22,"h":253,"t":7.5},{"m":22,"h":265,"t":5.0},{"m":22,"h":277,"t":6.5},{"m":22,"h":289,"t":4.0},{"m":22,"h":301,"t":6.0},{"m":22,"h":313,"t":4.8},
{"m":23,"h":-41,"t":-0.6},{"m":23,"h":-35,"t":0.8},{"m":23,"h":-29,"t":3.9},{"m":23,"h":-23,"t":2.2},{"m":23,"h":-17,"t":-0.2},{"m":23,"h":-11,"t":0.8},{"m":23,"h":-5,"t":0.2},{"m":23,"h":1,"t":0.6},{"m":23,"h":7,"t":1.5},{"m":23,"h":13,"t":1.8},{"m":23,"h":19,"t":0.3},{"m":23,"h":25,"t":-0.6},{"m":23,"h":31,"t":0.5},{"m":23,"h":37,"t":3.4},{"m":23,"h":43,"t":4.0},{"m":23,"h":49,"t":5.0},{"m":23,"h":55,"t":4.1},{"m":23,"h":61,"t":4.8},{"m":23,"h":67,"t":2.3},{"m":23,"h":73,"t":1.9},{"m":23,"h":79,"t":1.6},{"m":23,"h":85,"t":3.9},{"m":23,"h":91,"t":1.9},{"m":23,"h":97,"t":1.6},{"m":23,"h":103,"t":2.0},{"m":23,"h":109,"t":5.0},{"m":23,"h":115,"t":1.2},{"m":23,"h":121,"t":0.5},{"m":23,"h":127,"t":0.0},{"m":23,"h":133,"t":3.8},{"m":23,"h":145,"t":0.5},{"m":23,"h":157,"t":3.0},{"m":23,"h":169,"t":0.0},{"m":23,"h":181,"t":3.5},{"m":23,"h":193,"t":-2.0},{"m":23,"h":205,"t":1.5},{"m":23,"h":217,"t":-2.5},{"m":23,"h":229,"t":2.5},{"m":23,"h":241,"t":-1.0},{"m":23,"h":253,"t":3.5},{"m":23,"h":265,"t":-0.5},{"m":23,"h":277,"t":3.0},{"m":23,"h":289,"t":-2.0},{"m":23,"h":301,"t":1.5},{"m":23,"h":313,"t":0.5},
{"m":24,"h":-41,"t":-0.3},{"m":24,"h":-35,"t":1.2},{"m":24,"h":-29,"t":4.7},{"m":24,"h":-23,"t":3.1},{"m":24,"h":-17,"t":0.7},{"m":24,"h":-11,"t":1.7},{"m":24,"h":-5,"t":0.9},{"m":24,"h":1,"t":1.1},{"m":24,"h":7,"t":2.3},{"m":24,"h":13,"t":2.6},{"m":24,"h":19,"t":1.1},{"m":24,"h":25,"t":0.5},{"m":24,"h":31,"t":1.3},{"m":24,"h":37,"t":4.3},{"m":24,"h":43,"t":4.9},{"m":24,"h":49,"t":6.0},{"m":24,"h":55,"t":4.9},{"m":24,"h":61,"t":5.6},{"m":24,"h":67,"t":3.8},{"m":24,"h":73,"t":3.6},{"m":24,"h":79,"t":3.8},{"m":24,"h":85,"t":5.3},{"m":24,"h":91,"t":4.0},{"m":24,"h":97,"t":3.8},{"m":24,"h":103,"t":4.2},{"m":24,"h":109,"t":5.8},{"m":24,"h":115,"t":4.5},{"m":24,"h":121,"t":5.0},{"m":24,"h":127,"t":4.8},{"m":24,"h":133,"t":5.5},{"m":24,"h":145,"t":6.5},{"m":24,"h":157,"t":9.5},{"m":24,"h":169,"t":10.5},{"m":24,"h":181,"t":12.5},{"m":24,"h":193,"t":11.5},{"m":24,"h":205,"t":10.0},{"m":24,"h":217,"t":9.5},{"m":24,"h":229,"t":11.8},{"m":24,"h":241,"t":11.0},{"m":24,"h":253,"t":12.0},{"m":24,"h":265,"t":11.5},{"m":24,"h":277,"t":12.7},{"m":24,"h":289,"t":12.0},{"m":24,"h":301,"t":12.2},{"m":24,"h":313,"t":10.5},
{"m":25,"h":-41,"t":-0.5},{"m":25,"h":-35,"t":0.9},{"m":25,"h":-29,"t":4.2},{"m":25,"h":-23,"t":2.5},{"m":25,"h":-17,"t":0.1},{"m":25,"h":-11,"t":1.0},{"m":25,"h":-5,"t":0.4},{"m":25,"h":1,"t":0.7},{"m":25,"h":7,"t":1.7},{"m":25,"h":13,"t":2.0},{"m":25,"h":19,"t":0.6},{"m":25,"h":25,"t":-0.1},{"m":25,"h":31,"t":0.7},{"m":25,"h":37,"t":3.7},{"m":25,"h":43,"t":4.2},{"m":25,"h":49,"t":5.3},{"m":25,"h":55,"t":4.3},{"m":25,"h":61,"t":5.0},{"m":25,"h":67,"t":2.7},{"m":25,"h":73,"t":2.4},{"m":25,"h":79,"t":2.3},{"m":25,"h":85,"t":4.2},{"m":25,"h":91,"t":2.6},{"m":25,"h":97,"t":2.5},{"m":25,"h":103,"t":2.7},{"m":25,"h":109,"t":5.3},{"m":25,"h":115,"t":1.8},{"m":25,"h":121,"t":1.4},{"m":25,"h":127,"t":1.0},{"m":25,"h":133,"t":4.3},{"m":25,"h":145,"t":2.0},{"m":25,"h":157,"t":6.5},{"m":25,"h":169,"t":7.0},{"m":25,"h":181,"t":8.0},{"m":25,"h":193,"t":5.5},{"m":25,"h":205,"t":5.0},{"m":25,"h":217,"t":6.5},{"m":25,"h":229,"t":9.0},{"m":25,"h":241,"t":7.5},{"m":25,"h":253,"t":6.0},{"m":25,"h":265,"t":4.5},{"m":25,"h":277,"t":7.5},{"m":25,"h":289,"t":8.0},{"m":25,"h":301,"t":7.0},{"m":25,"h":313,"t":6.0},
{"m":26,"h":-41,"t":-0.6},{"m":26,"h":-35,"t":0.8},{"m":26,"h":-29,"t":3.9},{"m":26,"h":-23,"t":2.2},{"m":26,"h":-17,"t":-0.4},{"m":26,"h":-11,"t":0.7},{"m":26,"h":-5,"t":0.2},{"m":26,"h":1,"t":0.5},{"m":26,"h":7,"t":1.5},{"m":26,"h":13,"t":1.7},{"m":26,"h":19,"t":0.1},{"m":26,"h":25,"t":-0.9},{"m":26,"h":31,"t":0.3},{"m":26,"h":37,"t":3.4},{"m":26,"h":43,"t":4.1},{"m":26,"h":49,"t":5.0},{"m":26,"h":55,"t":4.1},{"m":26,"h":61,"t":4.8},{"m":26,"h":67,"t":2.3},{"m":26,"h":73,"t":2.0},{"m":26,"h":79,"t":1.9},{"m":26,"h":85,"t":4.0},{"m":26,"h":91,"t":2.0},{"m":26,"h":97,"t":1.8},{"m":26,"h":103,"t":2.2},{"m":26,"h":109,"t":5.0},{"m":26,"h":115,"t":1.3},{"m":26,"h":121,"t":0.6},{"m":26,"h":127,"t":0.2},{"m":26,"h":133,"t":3.9},{"m":26,"h":145,"t":1.5},{"m":26,"h":157,"t":3.5},{"m":26,"h":169,"t":4.5},{"m":26,"h":181,"t":6.0},{"m":26,"h":193,"t":6.5},{"m":26,"h":205,"t":9.0},{"m":26,"h":217,"t":7.0},{"m":26,"h":229,"t":7.5},{"m":26,"h":241,"t":4.0},{"m":26,"h":253,"t":5.0},{"m":26,"h":265,"t":3.0},{"m":26,"h":277,"t":5.5},{"m":26,"h":289,"t":6.5},{"m":26,"h":301,"t":8.5},{"m":26,"h":313,"t":7.0},
{"m":27,"h":-41,"t":-0.4},{"m":27,"h":-35,"t":1.0},{"m":27,"h":-29,"t":4.4},{"m":27,"h":-23,"t":2.7},{"m":27,"h":-17,"t":0.4},{"m":27,"h":-11,"t":1.3},{"m":27,"h":-5,"t":0.6},{"m":27,"h":1,"t":0.9},{"m":27,"h":7,"t":2.0},{"m":27,"h":13,"t":2.2},{"m":27,"h":19,"t":0.9},{"m":27,"h":25,"t":0.2},{"m":27,"h":31,"t":1.0},{"m":27,"h":37,"t":3.9},{"m":27,"h":43,"t":4.4},{"m":27,"h":49,"t":5.5},{"m":27,"h":55,"t":4.6},{"m":27,"h":61,"t":5.2},{"m":27,"h":67,"t":3.1},{"m":27,"h":73,"t":3.0},{"m":27,"h":79,"t":2.8},{"m":27,"h":85,"t":4.7},{"m":27,"h":91,"t":3.3},{"m":27,"h":97,"t":3.1},{"m":27,"h":103,"t":3.4},{"m":27,"h":109,"t":5.5},{"m":27,"h":115,"t":2.8},{"m":27,"h":121,"t":3.2},{"m":27,"h":127,"t":3.5},{"m":27,"h":133,"t":4.2},{"m":27,"h":145,"t":3.0},{"m":27,"h":157,"t":7.5},{"m":27,"h":169,"t":8.0},{"m":27,"h":181,"t":10.0},{"m":27,"h":193,"t":7.0},{"m":27,"h":205,"t":6.0},{"m":27,"h":217,"t":3.5},{"m":27,"h":229,"t":5.5},{"m":27,"h":241,"t":2.5},{"m":27,"h":253,"t":4.5},{"m":27,"h":265,"t":2.0},{"m":27,"h":277,"t":4.0},{"m":27,"h":289,"t":3.5},{"m":27,"h":301,"t":5.5},{"m":27,"h":313,"t":3.5},
{"m":28,"h":-41,"t":-0.7},{"m":28,"h":-35,"t":0.7},{"m":28,"h":-29,"t":3.8},{"m":28,"h":-23,"t":2.0},{"m":28,"h":-17,"t":-0.6},{"m":28,"h":-11,"t":0.6},{"m":28,"h":-5,"t":0.0},{"m":28,"h":1,"t":0.4},{"m":28,"h":7,"t":1.4},{"m":28,"h":13,"t":1.7},{"m":28,"h":19,"t":0.0},{"m":28,"h":25,"t":-0.9},{"m":28,"h":31,"t":0.2},{"m":28,"h":37,"t":3.3},{"m":28,"h":43,"t":3.9},{"m":28,"h":49,"t":4.9},{"m":28,"h":55,"t":4.0},{"m":28,"h":61,"t":4.7},{"m":28,"h":67,"t":2.1},{"m":28,"h":73,"t":1.7},{"m":28,"h":79,"t":1.3},{"m":28,"h":85,"t":3.8},{"m":28,"h":91,"t":1.6},{"m":28,"h":97,"t":1.3},{"m":28,"h":103,"t":1.8},{"m":28,"h":109,"t":4.9},{"m":28,"h":115,"t":0.9},{"m":28,"h":121,"t":0.0},{"m":28,"h":127,"t":-0.6},{"m":28,"h":133,"t":3.7},{"m":28,"h":145,"t":0.0},{"m":28,"h":157,"t":1.0},{"m":28,"h":169,"t":-1.0},{"m":28,"h":181,"t":2.5},{"m":28,"h":193,"t":1.5},{"m":28,"h":205,"t":4.5},{"m":28,"h":217,"t":2.0},{"m":28,"h":229,"t":4.0},{"m":28,"h":241,"t":0.5},{"m":28,"h":253,"t":2.5},{"m":28,"h":265,"t":3.5},{"m":28,"h":277,"t":6.0},{"m":28,"h":289,"t":4.5},{"m":28,"h":301,"t":5.0},{"m":28,"h":313,"t":2.0},
{"m":29,"h":-41,"t":-0.5},{"m":29,"h":-35,"t":1.0},{"m":29,"h":-29,"t":4.3},{"m":29,"h":-23,"t":2.6},{"m":29,"h":-17,"t":0.2},{"m":29,"h":-11,"t":1.2},{"m":29,"h":-5,"t":0.5},{"m":29,"h":1,"t":0.8},{"m":29,"h":7,"t":1.8},{"m":29,"h":13,"t":2.0},{"m":29,"h":19,"t":0.7},{"m":29,"h":25,"t":0.0},{"m":29,"h":31,"t":0.8},{"m":29,"h":37,"t":3.7},{"m":29,"h":43,"t":4.3},{"m":29,"h":49,"t":5.3},{"m":29,"h":55,"t":4.4},{"m":29,"h":61,"t":5.1},{"m":29,"h":67,"t":2.8},{"m":29,"h":73,"t":2.6},{"m":29,"h":79,"t":2.5},{"m":29,"h":85,"t":4.4},{"m":29,"h":91,"t":2.8},{"m":29,"h":97,"t":2.7},{"m":29,"h":103,"t":3.0},{"m":29,"h":109,"t":5.3},{"m":29,"h":115,"t":2.2},{"m":29,"h":121,"t":2.0},{"m":29,"h":127,"t":1.8},{"m":29,"h":133,"t":4.5},{"m":29,"h":145,"t":2.5},{"m":29,"h":157,"t":5.0},{"m":29,"h":169,"t":6.0},{"m":29,"h":181,"t":9.5},{"m":29,"h":193,"t":8.5},{"m":29,"h":205,"t":7.0},{"m":29,"h":217,"t":4.0},{"m":29,"h":229,"t":6.0},{"m":29,"h":241,"t":6.5},{"m":29,"h":253,"t":10.0},{"m":29,"h":265,"t":8.0},{"m":29,"h":277,"t":8.5},{"m":29,"h":289,"t":6.0},{"m":29,"h":301,"t":7.5},{"m":29,"h":313,"t":5.5},
{"m":30,"h":-41,"t":-0.6},{"m":30,"h":-35,"t":0.8},{"m":30,"h":-29,"t":4.0},{"m":30,"h":-23,"t":2.3},{"m":30,"h":-17,"t":-0.1},{"m":30,"h":-11,"t":0.9},{"m":30,"h":-5,"t":0.3},{"m":30,"h":1,"t":0.6},{"m":30,"h":7,"t":1.6},{"m":30,"h":13,"t":1.8},{"m":30,"h":19,"t":0.4},{"m":30,"h":25,"t":-0.3},{"m":30,"h":31,"t":0.6},{"m":30,"h":37,"t":3.5},{"m":30,"h":43,"t":4.1},{"m":30,"h":49,"t":5.1},{"m":30,"h":55,"t":4.2},{"m":30,"h":61,"t":4.9},{"m":30,"h":67,"t":2.5},{"m":30,"h":73,"t":2.1},{"m":30,"h":79,"t":1.9},{"m":30,"h":85,"t":4.0},{"m":30,"h":91,"t":2.1},{"m":30,"h":97,"t":1.9},{"m":30,"h":103,"t":2.3},{"m":30,"h":109,"t":5.1},{"m":30,"h":115,"t":1.3},{"m":30,"h":121,"t":0.7},{"m":30,"h":127,"t":0.3},{"m":30,"h":133,"t":4.0},{"m":30,"h":145,"t":1.0},{"m":30,"h":157,"t":3.0},{"m":30,"h":169,"t":2.0},{"m":30,"h":181,"t":4.0},{"m":30,"h":193,"t":1.5},{"m":30,"h":205,"t":5.5},{"m":30,"h":217,"t":5.5},{"m":30,"h":229,"t":8.0},{"m":30,"h":241,"t":6.0},{"m":30,"h":253,"t":8.0},{"m":30,"h":265,"t":6.0},{"m":30,"h":277,"t":5.0},{"m":30,"h":289,"t":1.5},{"m":30,"h":301,"t":3.0},{"m":30,"h":313,"t":1.5}
]
},
"layer": [
{
"data": {"name": "ens"},
"mark": {"type": "line", "interpolate": "monotone", "strokeWidth": 1, "stroke": "#179017", "strokeOpacity": 0.45},
"encoding": {
"x": {"field": "h", "type": "quantitative", "scale": {"domain": [-44.2, 316], "nice": false, "zero": false},
"axis": {"values": [0, 48, 96, 144, 192, 240, 288], "labelExpr": "[['Din','Don','Zat','Maa','Woe','Vri','Zon'][datum.value/48], ['12-12','14-12','16-12','18-12','20-12','22-12','24-12'][datum.value/48]]", "grid": false, "domainColor": "#ccd6eb", "tickColor": "#ccd6eb", "tickSize": 10, "labelColor": "#666666", "labelFontSize": 11, "labelLineHeight": 14, "labelPadding": 2, "labelOverlap": false, "labelBound": false, "labelFlush": false, "title": "Weerpluimen.nl", "titleColor": "#999999", "titleFontSize": 12, "titleFontWeight": "normal", "titleX": 796, "titleY": 76, "titleAlign": "right", "titleBaseline": "middle", "titleAnchor": null}},
"y": {"field": "t", "type": "quantitative", "scale": {"domain": [-15, 15], "nice": false},
"axis": {"values": [-15, -10, -5, 0, 5, 10, 15], "labelExpr": "datum.value + '°C'", "grid": true, "gridColor": "#e6e6e6", "domain": false, "ticks": false, "labelPadding": 15, "labelColor": "#666666", "labelFontSize": 11, "title": "Temperatuur", "titleColor": "#666666", "titleFontSize": 12, "titleFontWeight": "normal", "titleX": -57, "titleY": 152, "titleAngle": -90, "titleAlign": "center", "titleBaseline": "middle"}},
"detail": {"field": "m", "type": "nominal"}
}
},
{
"data": {"name": "zero"},
"mark": {"type": "rule", "color": "#000000", "strokeWidth": 1.2},
"encoding": {"y": {"field": "v", "type": "quantitative"}}
},
{
"data": {"name": "mean"},
"mark": {"type": "line", "interpolate": "monotone", "color": "#111111", "strokeWidth": 1},
"encoding": {"x": {"field": "h", "type": "quantitative"}, "y": {"field": "t", "type": "quantitative"}}
},
{
"data": {"name": "ctl"},
"mark": {"type": "line", "interpolate": "monotone", "color": "#0000ff", "strokeWidth": 2.5},
"encoding": {"x": {"field": "h", "type": "quantitative"}, "y": {"field": "t", "type": "quantitative"}}
},
{
"data": {"name": "op"},
"mark": {"type": "line", "interpolate": "monotone", "color": "#ff0000", "strokeWidth": 2.5},
"encoding": {"x": {"field": "h", "type": "quantitative"}, "y": {"field": "t", "type": "quantitative"}}
},
{
"data": {"name": "obs"},
"mark": {"type": "line", "interpolate": "monotone", "strokeWidth": 3},
"encoding": {
"x": {"field": "h", "type": "quantitative"},
"y": {"field": "t", "type": "quantitative"},
"color": {"datum": "Gemeten Temperatuur", "type": "nominal",
"scale": {"domain": ["Controle", "Oper", "Gemiddelde", "Verstoorde runs", "Gemeten Temperatuur"], "range": ["#0000ff", "#ff0000", "#666666", "#cfe9cf", "#ffbf00"]},
"legend": {"orient": "none", "legendX": 89, "legendY": 355, "direction": "horizontal", "columns": 5, "title": null, "symbolType": "stroke", "symbolSize": 256, "symbolStrokeWidth": 2, "labelFontSize": 12, "labelFontWeight": "bold", "labelColor": "#333333", "labelFont": "Liberation Sans", "columnPadding": 14, "labelOffset": 4, "padding": 0}}
}
}
]
}
